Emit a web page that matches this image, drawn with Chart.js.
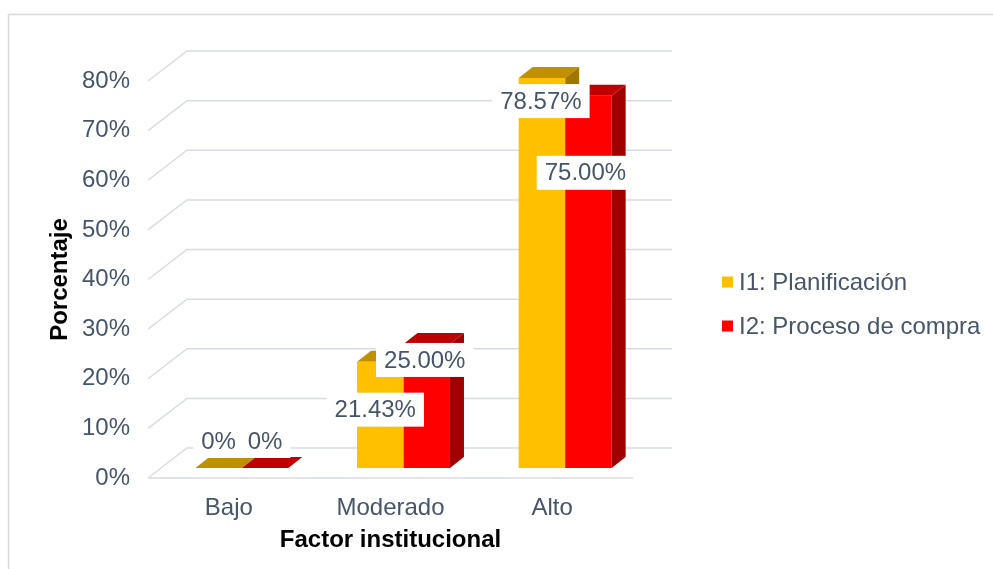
<!DOCTYPE html>
<html>
<head>
<meta charset="utf-8">
<script src="https://cdn.jsdelivr.net/npm/chart.js@4.4.1/dist/chart.umd.min.js"></script>
<style>
  html, body { margin: 0; padding: 0; background: #fff; overflow: hidden; }
</style>
</head>
<body>
<canvas id="chart" width="993" height="569"></canvas>
<script>
// datos del gráfico
const categorias = ['Bajo', 'Moderado', 'Alto'];
const planificacion = [0, 21.43, 78.57];
const procesoCompra = [0, 25.00, 75.00];
const series = ['I1: Planificación', 'I2: Proceso de compra'];
const ejeY = { min: 0, max: 80, paso: 10 };

// estilo
const FUENTE = "'Liberation Sans', Arial, sans-serif";
const TAM = 24;
const TEXTO = '#475569';
const GRID = '#D9DCE2';
const FONDO_X = 39, FONDO_Y = 30;   // profundidad de la pared del fondo
const BARRA_X = 13, BARRA_Y = 10;   // desplazamiento de las barras hacia el fondo
const CARA_X = 14, CARA_Y = 11;     // grosor 3D de cada barra
// posición de las etiquetas respecto a la parte superior de cada barra
const etiquetaOffset = [
  [[0, -27], [-5, 48], [-1, 23]],
  [[0, -27], [-2, 16], [-3, 77]]
];

const fmt = v => v === 0 ? '0%' : v.toFixed(2) + '%';

function caras(chart, i) {
  const ctx = chart.ctx;
  const ds = chart.data.datasets[i];
  chart.getDatasetMeta(i).data.forEach(bar => {
    const { x, y, base, width } = bar.getProps(['x', 'y', 'base', 'width'], true);
    const l = x - width / 2, r = x + width / 2;
    ctx.fillStyle = ds.colorTapa;
    ctx.beginPath();
    ctx.moveTo(l, y); ctx.lineTo(r, y);
    ctx.lineTo(r + CARA_X, y - CARA_Y); ctx.lineTo(l + CARA_X, y - CARA_Y);
    ctx.closePath(); ctx.fill();
    ctx.fillStyle = ds.colorLado;
    ctx.beginPath();
    ctx.moveTo(r, y); ctx.lineTo(r + CARA_X, y - CARA_Y);
    ctx.lineTo(r + CARA_X, base - CARA_Y); ctx.lineTo(r, base);
    ctx.closePath(); ctx.fill();
  });
}

const barras3d = {
  id: 'barras3d',
  beforeDraw(chart) {
    const ctx = chart.ctx;
    ctx.save();
    ctx.strokeStyle = '#D9D9D9';
    ctx.lineWidth = 1.5;
    ctx.strokeRect(8.5, 14.5, 1200, 1200);
    ctx.restore();
  },
  beforeDatasetsDraw(chart) {
    const { ctx, chartArea: a, scales: { y } } = chart;
    ctx.save();
    ctx.strokeStyle = GRID;
    ctx.lineWidth = 1.5;
    y.ticks.forEach(t => {
      const py = y.getPixelForValue(t.value);
      ctx.beginPath();
      ctx.moveTo(a.left, py);
      ctx.lineTo(a.left + FONDO_X, py - FONDO_Y);
      ctx.lineTo(a.right + FONDO_X, py - FONDO_Y);
      if (t.value === 0) { ctx.moveTo(a.left, py); ctx.lineTo(a.right, py); }
      ctx.stroke();
    });
    ctx.restore();
    ctx.save();
    ctx.translate(BARRA_X, -BARRA_Y);
    caras(chart, 0);
  },
  afterDatasetsDraw(chart) {
    const ctx = chart.ctx;
    caras(chart, 1);
    ctx.restore();

    // etiquetas de datos
    ctx.save();
    ctx.font = TAM + 'px ' + FUENTE;
    ctx.textAlign = 'center';
    ctx.textBaseline = 'middle';
    chart.data.datasets.forEach((ds, i) => {
      chart.getDatasetMeta(i).data.forEach((bar, j) => {
        const txt = fmt(ds.data[j]);
        const [ox, oy] = etiquetaOffset[i][j];
        const cx = bar.x + BARRA_X + ox, cy = bar.y - BARRA_Y + oy;
        const w = ctx.measureText(txt).width + 16, h = 34;
        ctx.fillStyle = '#fff';
        ctx.fillRect(cx - w / 2, cy - h / 2, w, h);
        ctx.fillStyle = TEXTO;
        ctx.fillText(txt, cx, cy + 1);
      });
    });
    ctx.restore();
  },
  afterDraw(chart) {
    // leyenda
    const ctx = chart.ctx;
    ctx.save();
    ctx.font = TAM + 'px ' + FUENTE;
    ctx.textBaseline = 'middle';
    chart.data.datasets.forEach((ds, i) => {
      const cy = 282 + i * 44;
      ctx.fillStyle = ds.backgroundColor;
      ctx.fillRect(722, cy - 5.5, 11, 11);
      ctx.fillStyle = TEXTO;
      ctx.fillText(ds.label, 739, cy + 1);
    });
    ctx.restore();
  }
};

new Chart(document.getElementById('chart'), {
  type: 'bar',
  data: {
    labels: categorias,
    datasets: [
      { label: series[0], data: planificacion, backgroundColor: '#FFC000',
        colorTapa: '#BF9000', colorLado: '#A07800', clip: false },
      { label: series[1], data: procesoCompra, backgroundColor: '#FF0000',
        colorTapa: '#C00000', colorLado: '#A00000', clip: false }
    ]
  },
  options: {
    responsive: false,
    animation: false,
    events: [],
    categoryPercentage: 0.575,
    barPercentage: 1.0,
    layout: { padding: { left: 0, right: 360, top: 81, bottom: 0 } },
    plugins: {
      legend: { display: false },
      tooltip: { enabled: false }
    },
    scales: {
      x: {
        grid: { display: false },
        border: { display: false },
        ticks: { color: TEXTO, font: { family: FUENTE, size: TAM }, padding: 8 },
        title: { display: true, text: 'Factor institucional', color: '#000',
                 font: { family: FUENTE, size: TAM, weight: 'bold' }, padding: { top: 0, bottom: 14 } },
        afterFit: s => { s.height = 91; }
      },
      y: {
        min: ejeY.min, max: ejeY.max,
        grid: { display: false },
        border: { display: false },
        ticks: { stepSize: ejeY.paso, color: TEXTO, font: { family: FUENTE, size: TAM }, padding: 10,
                 callback: v => v + '%' },
        title: { display: true, text: 'Porcentaje', color: '#000',
                 font: { family: FUENTE, size: TAM, weight: 'bold' }, padding: { top: 46, bottom: 0 } },
        afterFit: s => { s.width = 148; }
      }
    }
  },
  plugins: [barras3d]
});
</script>
</body>
</html>
